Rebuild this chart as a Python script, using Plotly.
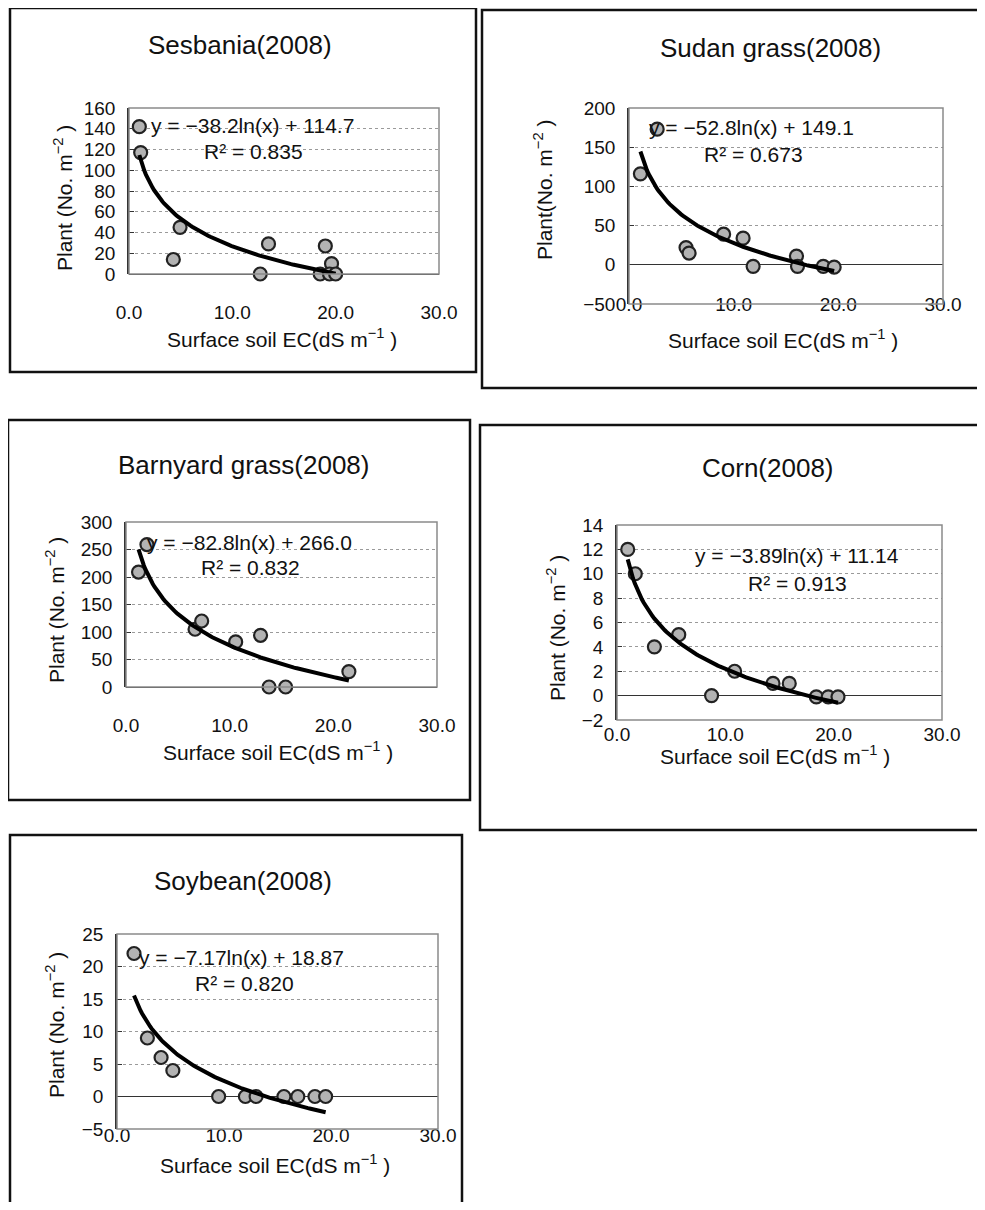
import numpy as np
import plotly.graph_objects as go

# page body has an 8px margin; size the figure so it fills the 985x1210 window exactly
OFF = 8
W, H = 985 - 2 * OFF, 1210 - 2 * OFF

# ---------------- data ----------------
titles = ["Sesbania(2008)", "Sudan grass(2008)", "Barnyard grass(2008)", "Corn(2008)", "Soybean(2008)"]

sesbania_x = [1.0, 1.13, 4.94, 4.29, 13.5, 12.7, 19.0, 19.6, 18.5, 19.4, 20.0]
sesbania_y = [142, 117, 45, 14, 29, 0, 27, 10, 0, 0, 0]

sudan_x = [2.69, 1.09, 5.45, 5.74, 9.04, 10.9, 11.86, 16.0, 16.1, 18.56, 19.6]
sudan_y = [173, 116, 22, 15, 39, 34, -2, 11, -2, -2, -3]

barnyard_x = [1.21, 2.02, 6.66, 7.3, 10.58, 12.98, 13.8, 15.4, 21.5]
barnyard_y = [209, 259, 105, 120, 82, 94, 0, 0, 28]

corn_x = [0.99, 1.69, 3.45, 5.7, 8.73, 10.86, 14.4, 15.9, 18.4, 19.5, 20.4]
corn_y = [12, 10, 4, 5, 0, 2, 1, 1, -0.1, -0.1, -0.1]

soybean_x = [1.59, 2.84, 4.12, 5.22, 9.5, 12.0, 13.0, 15.6, 16.9, 18.5, 19.5]
soybean_y = [22, 9, 6, 4, 0, 0, 0, 0, 0, 0, 0]

fit_a = [-38.2, -52.8, -82.8, -3.89, -7.17]
fit_b = [114.7, 149.1, 266.0, 11.14, 18.87]
eq_text = ["y = −38.2ln(x) + 114.7", "y = −52.8ln(x) + 149.1", "y = −82.8ln(x) + 266.0",
           "y = −3.89ln(x) + 11.14", "y = −7.17ln(x) + 18.87"]
r2_text = ["R² = 0.835", "R² = 0.673", "R² = 0.832", "R² = 0.913", "R² = 0.820"]

y_ranges = [[0, 160], [-50, 200], [0, 300], [-2, 14], [-5, 25]]
y_dticks = [20, 50, 50, 2, 5]
x_range = [0, 30]
x_dtick = 10
ytitles = ["Plant (No. m<sup>−2</sup> )", "Plant(No. m<sup>−2</sup> )", "Plant (No. m<sup>−2</sup> )",
           "Plant (No. m<sup>−2</sup> )", "Plant (No. m<sup>−2</sup> )"]
xtitle = "Surface soil EC(dS m<sup>−1</sup> )"

xs = [sesbania_x, sudan_x, barnyard_x, corn_x, soybean_x]
ys = [sesbania_y, sudan_y, barnyard_y, corn_y, soybean_y]

# ---------------- layout geometry (window pixels) ----------------
plot_px = [  # x0, x1, ytop, ybottom
    (129, 439, 108, 274),
    (629, 943, 108, 304),
    (126, 437, 522, 687),
    (617, 942, 525, 720),
    (117, 438, 934, 1129),
]
xlabel_cy = [310, 302, 723, 732, 1133]
frames = [  # x0, y0, x1, y1
    (10, 8, 476, 372),
    (482, 10, 995, 388),
    (8, 420, 470, 800),
    (480, 425, 995, 830),
    (10, 835, 462, 1220),
]
title_pos = [(240, 45), (770, 48), (243, 465), (768, 468), (243, 881)]
ytitle_pos = [(63, 198), (543, 190), (55, 610), (556, 628), (55, 1025)]
xtitle_pos = [(282, 338), (783, 339), (278, 751), (775, 755), (275, 1164)]
eq_pos = [(252, 126), (751, 128), (249, 542), (797, 555), (241, 957)]
r2_pos = [(253, 152), (753, 154), (250, 567), (797, 583), (244, 984)]


def px(xv):
    return (xv - OFF) / W


def py(yv):
    return 1 - (yv - OFF) / H


FONT = "Liberation Sans, Arial, sans-serif"

fig = go.Figure()
annotations = []
shapes = []
layout = {}


def note(text, x, y, size, angle=0):
    return dict(text=text, x=px(x), y=py(y), xref="paper", yref="paper", showarrow=False,
                xanchor="center", yanchor="middle", textangle=angle,
                font=dict(size=size, color="#111", family=FONT))


for i in range(5):
    n = "" if i == 0 else str(i + 1)
    xa, ya = "x" + n, "y" + n
    x0, x1, yt, yb = plot_px[i]

    # trend line (from the displayed equation)
    xmin, xmax = min(xs[i]), max(xs[i])
    xl = np.linspace(xmin, xmax, 120)
    yl = fit_a[i] * np.log(xl) + fit_b[i]

    fig.add_trace(go.Scatter(
        x=xs[i], y=ys[i], mode="markers", xaxis=xa, yaxis=ya,
        marker=dict(size=13, color="#b3b3b3", line=dict(color="#222222", width=2.2)),
        showlegend=False, hoverinfo="skip", cliponaxis=False))
    fig.add_trace(go.Scatter(
        x=xl, y=yl, mode="lines", xaxis=xa, yaxis=ya,
        line=dict(color="black", width=4), showlegend=False, hoverinfo="skip"))

    layout["xaxis" + n] = dict(
        domain=[px(x0), px(x1)], range=x_range, dtick=x_dtick, tick0=0, tickformat=".1f",
        anchor="free", position=py(xlabel_cy[i] - 11), showline=False, showgrid=False,
        zeroline=False, ticks="", automargin=False,
        tickfont=dict(size=19, color="#111", family=FONT))
    layout["yaxis" + n] = dict(
        domain=[py(yb), py(yt)], range=y_ranges[i], dtick=y_dticks[i], anchor=xa,
        showline=True, linecolor="#333", linewidth=1.5, automargin=False,
        showgrid=True, gridcolor="#9a9a9a", griddash="dot", gridwidth=1,
        zeroline=True, zerolinecolor="#333", zerolinewidth=1.2,
        ticks="inside", ticklen=5, tickcolor="#333", ticklabelstandoff=8,
        tickfont=dict(size=19, color="#111", family=FONT))

    # plot-area border
    shapes.append(dict(type="rect", xref=xa + " domain", yref=ya + " domain",
                       x0=0, x1=1, y0=0, y1=1, line=dict(color="#8a8a8a", width=1.5)))
    # panel frame
    fx0, fy0, fx1, fy1 = frames[i]
    shapes.append(dict(type="rect", xref="paper", yref="paper",
                       x0=px(fx0), x1=px(fx1), y0=py(fy1), y1=py(fy0),
                       line=dict(color="#111", width=2.5)))

    annotations.append(note(titles[i], *title_pos[i], 26))
    annotations.append(note(ytitles[i], *ytitle_pos[i], 21, -90))
    annotations.append(note(xtitle, *xtitle_pos[i], 21))
    annotations.append(note(eq_text[i], *eq_pos[i], 21))
    annotations.append(note(r2_text[i], *r2_pos[i], 21))

fig.update_layout(
    width=W, height=H, margin=dict(l=0, r=0, t=0, b=0, autoexpand=False),
    paper_bgcolor="white", plot_bgcolor="white",
    annotations=annotations, shapes=shapes, font=dict(family=FONT),
    **layout)

fig.write_html("out.html")
